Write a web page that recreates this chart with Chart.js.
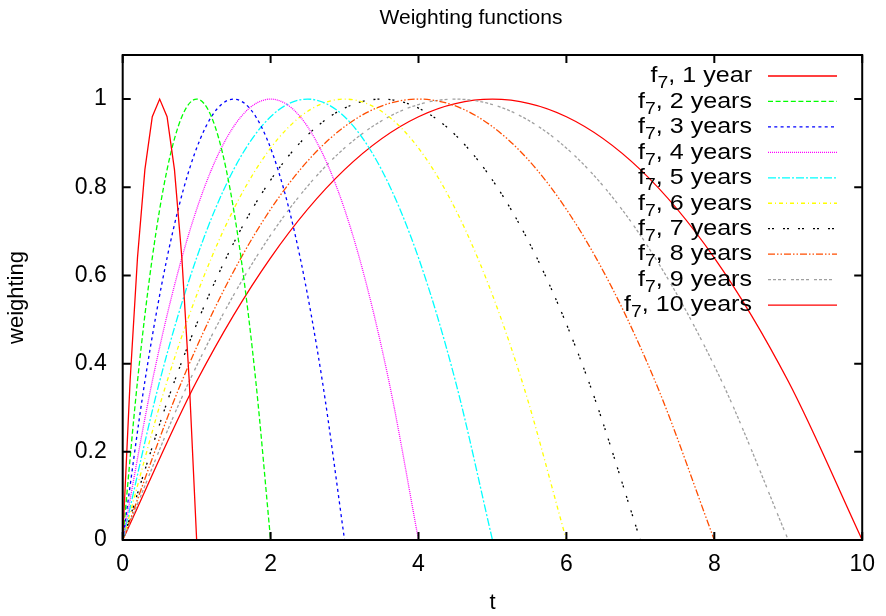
<!DOCTYPE html>
<html>
<head>
<meta charset="utf-8">
<script src="https://cdn.jsdelivr.net/npm/chart.js@4.4.1/dist/chart.umd.min.js"></script>
<style>
  html, body { margin: 0; padding: 0; background: #fff; }
  #wrap { width: 886px; height: 616px; }
</style>
</head>
<body>
<div id="wrap"><canvas id="grafico"></canvas></div>
<script>
// Etiquetas de la leyenda (f_7, N years)
const seriesLabels = ['1 year', '2 years', '3 years', '4 years', '5 years',
                      '6 years', '7 years', '8 years', '9 years', '10 years'];

// Valores t leidos para cada curva
const t1  = [0, 0.1, 0.2, 0.3, 0.4, 0.5, 0.6, 0.7, 0.8, 0.9, 1.0];
const t2  = [0, 0.2, 0.4, 0.6, 0.8, 1.0, 1.2, 1.4, 1.6, 1.8, 2.0];
const t3  = [0, 0.3, 0.6, 0.9, 1.2, 1.5, 1.8, 2.1, 2.4, 2.7, 3.0];
const t4  = [0, 0.4, 0.8, 1.2, 1.6, 2.0, 2.4, 2.8, 3.2, 3.6, 4.0];
const t5  = [0, 0.5, 1.0, 1.5, 2.0, 2.5, 3.0, 3.5, 4.0, 4.5, 5.0];
const t6  = [0, 0.6, 1.2, 1.8, 2.4, 3.0, 3.6, 4.2, 4.8, 5.4, 6.0];
const t7  = [0, 0.7, 1.4, 2.1, 2.8, 3.5, 4.2, 4.9, 5.6, 6.3, 7.0];
const t8  = [0, 0.8, 1.6, 2.4, 3.2, 4.0, 4.8, 5.6, 6.4, 7.2, 8.0];
const t9  = [0, 0.9, 1.8, 2.7, 3.6, 4.5, 5.4, 6.3, 7.2, 8.1, 9.0];
const t10 = [0, 1, 2, 3, 4, 5, 6, 7, 8, 9, 10];
const tValues = [t1, t2, t3, t4, t5, t6, t7, t8, t9, t10];

const weighting = [0, 0.36, 0.64, 0.84, 0.96, 1.0, 0.96, 0.84, 0.64, 0.36, 0];

// Ticks de los ejes
const xTicks = [0, 2, 4, 6, 8, 10];
const yTicks = [0, 0.2, 0.4, 0.6, 0.8, 1];

const colores = ['#ff0000', '#00ff00', '#0000ff', '#ff00ff', '#00ffff',
                 '#ffff00', '#000000', '#ff4d00', '#a0a0a0', '#ff0000'];
const guiones = [[], [5, 2.6], [3, 3.3], [1, 1], [8, 2, 2, 2],
                 [4, 3, 1, 3], [2, 2, 2, 9], [7, 2, 1.5, 2, 1.5, 2],
                 [3, 2, 3, 2, 3, 2, 3, 5], []];

const FONT = '"Liberation Sans", Arial, Helvetica, sans-serif';

const datasets = tValues.map((ts, i) => ({
    label: seriesLabels[i],
    data: ts.map((t, k) => ({ x: t, y: weighting[k] })),
    borderColor: colores[i],
    borderDash: guiones[i],
    borderWidth: 1.3,
    pointRadius: 0,
    fill: false,
    tension: 0,
    cubicInterpolationMode: i === 0 ? 'default' : 'monotone'
}));

// Marco, ticks hacia adentro, titulo y leyenda al estilo gnuplot
const gnuplotStyle = {
    id: 'gnuplotStyle',
    afterDatasetsDraw(chart) {
        const ctx = chart.ctx;
        const a = chart.chartArea;
        const xs = chart.scales.x, ys = chart.scales.y;
        ctx.save();
        ctx.strokeStyle = '#000';
        ctx.lineWidth = 2;
        ctx.setLineDash([]);
        ctx.strokeRect(a.left, a.top, a.right - a.left, a.bottom - a.top);
        const len = 8;
        ctx.beginPath();
        xTicks.forEach(v => {
            const px = xs.getPixelForValue(v);
            ctx.moveTo(px, a.bottom); ctx.lineTo(px, a.bottom - len);
            ctx.moveTo(px, a.top); ctx.lineTo(px, a.top + len);
        });
        yTicks.forEach(v => {
            const py = ys.getPixelForValue(v);
            ctx.moveTo(a.left, py); ctx.lineTo(a.left + len, py);
            ctx.moveTo(a.right, py); ctx.lineTo(a.right - len, py);
        });
        ctx.stroke();

        // titulo
        ctx.fillStyle = '#000';
        ctx.font = '21px ' + FONT;
        ctx.textAlign = 'center';
        ctx.textBaseline = 'middle';
        ctx.fillText('Weighting functions', 471, 18);

        // leyenda (texto algo ensanchado como en el original)
        const textRight = 752, lineL = 768, lineR = 837, ancho = 1.14;
        chart.data.datasets.forEach((ds, i) => {
            const y = 76 + i * 25.45;
            ctx.strokeStyle = ds.borderColor;
            ctx.lineWidth = 1.3;
            ctx.setLineDash(ds.borderDash);
            ctx.beginPath();
            ctx.moveTo(lineL, y); ctx.lineTo(lineR, y);
            ctx.stroke();
            ctx.setLineDash([]);

            ctx.save();
            ctx.translate(textRight, 0);
            ctx.scale(ancho, 1);
            ctx.textAlign = 'left';
            ctx.textBaseline = 'alphabetic';
            const resto = ', ' + ds.label;
            ctx.font = '22px ' + FONT;
            const wResto = ctx.measureText(resto).width;
            const wF = ctx.measureText('f').width;
            ctx.font = '17px ' + FONT;
            const wSub = ctx.measureText('7').width;
            const x = -wResto - wSub - wF;
            ctx.font = '22px ' + FONT;
            ctx.fillText('f', x, y + 6.3);
            ctx.font = '17px ' + FONT;
            ctx.fillText('7', x + wF, y + 12.3);
            ctx.font = '22px ' + FONT;
            ctx.fillText(resto, x + wF + wSub, y + 6.3);
            ctx.restore();
        });
        ctx.restore();
    }
};

Chart.defaults.font.family = FONT;
Chart.defaults.color = '#000';

new Chart(document.getElementById('grafico'), {
    type: 'line',
    data: { datasets: datasets },
    options: {
        responsive: true,
        maintainAspectRatio: false,
        animation: false,
        layout: { padding: { top: 55, right: 19, bottom: 0, left: 0 } },
        plugins: {
            legend: { display: false },
            title: { display: false },
            tooltip: { enabled: false }
        },
        scales: {
            x: {
                type: 'linear',
                min: 0,
                max: 10,
                afterBuildTicks: s => { s.ticks = xTicks.map(v => ({ value: v })); },
                afterFit: s => { s.height = 76; },
                grid: { display: false, drawTicks: false },
                border: { display: false },
                ticks: { font: { size: 23 }, padding: 11, callback: v => String(v) },
                title: { display: true, text: 't', font: { size: 22 }, padding: { top: 0, bottom: 0 } }
            },
            y: {
                type: 'linear',
                min: 0,
                max: 1.1,
                afterBuildTicks: s => { s.ticks = yTicks.map(v => ({ value: v })); },
                afterFit: s => { s.width = 122.7; },
                grid: { display: false, drawTicks: false },
                border: { display: false },
                ticks: { font: { size: 23 }, padding: 16, callback: v => String(+v.toFixed(1)) },
                title: { display: true, text: 'weighting', font: { size: 22 }, padding: { top: 4, bottom: 0 } }
            }
        }
    },
    plugins: [gnuplotStyle]
});
</script>
</body>
</html>
